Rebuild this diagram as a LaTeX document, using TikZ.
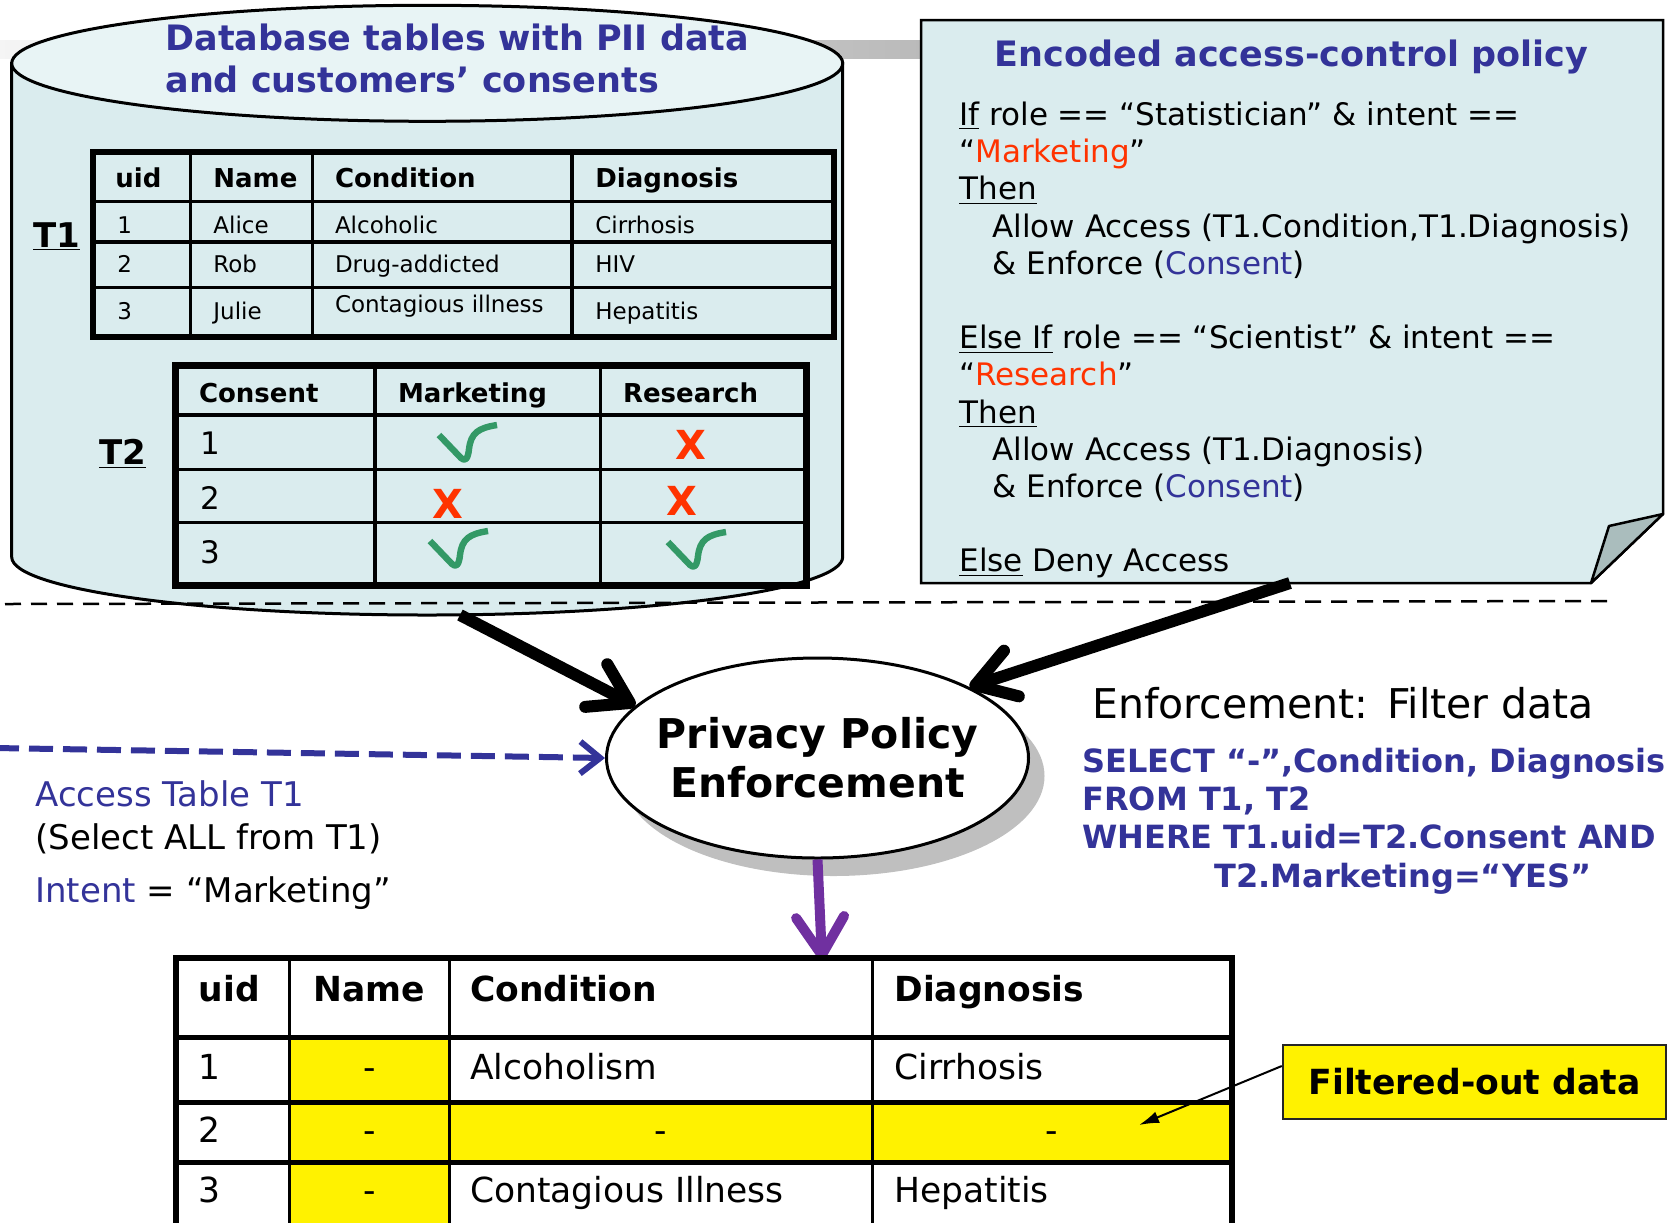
\documentclass[tikz,border=0pt]{standalone}
\usepackage{fontspec}
\setmainfont{DejaVu Sans}
\usetikzlibrary{arrows.meta,shapes.geometric,shadows}
\definecolor{dbBody}{HTML}{DAECEE}
\definecolor{dbTop}{HTML}{E8F4F5}
\definecolor{piiBlue}{HTML}{333399}
\definecolor{hotRed}{HTML}{FF3300}
\definecolor{okGreen}{HTML}{339966}
\definecolor{flowPurple}{HTML}{7030A0}
\definecolor{foldGray}{HTML}{AABDBD}
\tikzset{
  txt/.style={inner sep=0pt, anchor=base west},
  thead/.style={txt, font=\fontsize{13}{15}\selectfont\bfseries},
  tcell/.style={txt, font=\fontsize{11.5}{14}\selectfont},
  rhead/.style={txt, font=\fontsize{17.25}{20}\selectfont\bfseries},
  rcell/.style={txt, font=\fontsize{17.25}{20}\selectfont},
  sidetxt/.style={txt, font=\fontsize{17}{20}\selectfont},
  gridline/.style={line width=1.75pt},
  fatarrow/.style={line width=6pt, -{Straight Barb[length=19pt,width=24pt,round]}},
  nomark/.style={inner sep=0pt, text=hotRed, font=\fontsize{20}{24}\selectfont\bfseries},
  okmark/.pic={\draw[okGreen, line width=3.2pt, line join=round]
    (-29,-8) -- (-7,15) .. controls (-3,19) and (0,16) .. (1,6)
    .. controls (3,-10) and (10,-15) .. (29,-18);}
}

\begin{document}
\begin{tikzpicture}[x=0.5pt, y=-0.5pt]
\useasboundingbox (0,0) rectangle (1669,1222);
\clip (0,0) rectangle (1669,1222);

% grey bar behind database and policy note
\fill[left color=black!4, right color=black!27] (0,40) rectangle (921,58);

% database cylinder
\filldraw[fill=dbBody, line width=1.5pt] (11.7,63.3) -- (11.7,557)
  arc[start angle=180, end angle=360, x radius=207.75pt, y radius=29pt]
  -- (842.7,63.3) -- cycle;
\draw[fill=dbTop, line width=1.5pt] (427.2,63.3) ellipse[x radius=207.75pt, y radius=29pt];
\node[anchor=north west, inner sep=0pt, align=left, text=piiBlue,
  font=\fontsize{17.5}{21.25}\selectfont\bfseries] (dbtitle) at (165,23.4)
  {Database tables with PII data\\and customers’ consents};

% table T1
\draw[line width=3pt] (92.6,152.2) rectangle (833.8,337.3);
\foreach \x in {190.3,312.7,572} \draw[gridline] (\x,152.2) -- (\x,337.3);
\foreach \y in {201.7,242,287.5} \draw[gridline] (92.6,\y) -- (833.8,\y);
\foreach \x/\t [count=\i] in {115/uid,213/Name,334.6/Condition,595/Diagnosis}
  \node[thead] (t1h\i) at (\x,187.8) {\t};
\foreach \y/\yc/\a/\b/\c/\d [count=\i] in {233.3/233.3/1/Alice/Alcoholic/Cirrhosis,
    272.8/272.8/2/Rob/Drug-addicted/HIV, 319.5/312.4/3/Julie/Contagious illness/Hepatitis} {
  \node[tcell] (t1u\i) at (117,\y) {\a};
  \node[tcell] (t1n\i) at (213,\y) {\b};
  \node[tcell] (t1c\i) at (334.6,\yc) {\c};
  \node[tcell] (t1d\i) at (595,\y) {\d};
}
\node[txt, font=\fontsize{17}{20}\selectfont\bfseries] (t1lab) at (33,247) {\underline{T1}};

% table T2
\draw[line width=3.5pt] (175.5,365.8) rectangle (806.4,585.2);
\foreach \x in {375.2,600.7} \draw[gridline] (\x,365.8) -- (\x,585.2);
\foreach \y in {415.2,469.4,522.7} \draw[gridline] (175.5,\y) -- (806.4,\y);
\foreach \x/\t [count=\i] in {198.6/Consent,397.7/Marketing,622.6/Research}
  \node[thead] (t2h\i) at (\x,402.5) {\t};
\foreach \y [count=\i] in {454.7,509.3,563.5}
  \node[txt, font=\fontsize{15.5}{18}\selectfont] (t2n\i) at (200.2,\y) {\i};
\pic at (468,443) {okmark};
\pic at (459,549) {okmark};
\pic at (697,550) {okmark};
\node[nomark] (no1) at (691,445) {X};
\node[nomark] (no2) at (448,504) {X};
\node[nomark] (no3) at (682,501) {X};
\node[txt, font=\fontsize{17}{20}\selectfont\bfseries] (t2lab) at (99,464.6) {\underline{T2}};

% policy note
\draw[fill=dbBody, line width=1.25pt] (921,20) -- (1663,20) -- (1663,514)
  -- (1591,583) -- (921,583) -- cycle;
\draw[fill=foldGray, line width=1.25pt, line join=round] (1591,583) -- (1609,526) -- (1663,514) -- cycle;
\node[anchor=base, inner sep=0pt, text=piiBlue, font=\fontsize{17.5}{21}\selectfont\bfseries]
  (poltitle) at (1291.5,66) {Encoded access-control policy};
\node[anchor=north west, inner sep=0pt, align=left, font=\fontsize{15.5}{18.6}\selectfont]
  (poltext) at (959,101.6) {%
  \underline{If} role == “Statistician” \& intent ==\\
  “{\color{hotRed}Marketing}”\\
  \underline{Then}\\
  \hspace*{16.5pt}Allow Access (T1.Condition,T1.Diagnosis)\\
  \hspace*{16.5pt}\& Enforce ({\color{piiBlue}Consent})\\[18.6pt]
  \underline{Else If} role == “Scientist” \& intent ==\\
  “{\color{hotRed}Research}”\\
  \underline{Then}\\
  \hspace*{16.5pt}Allow Access (T1.Diagnosis)\\
  \hspace*{16.5pt}\& Enforce ({\color{piiBlue}Consent})\\[18.6pt]
  \underline{Else} Deny Access};

% separator
\draw[line width=1.25pt, dash pattern=on 8pt off 5pt] (5,604) -- (1615,601);

% enforcement point
\node[ellipse, draw, line width=1.5pt, fill=white, minimum width=211pt, minimum height=100pt,
  inner xsep=-6pt, inner ysep=0pt, align=center, font=\fontsize{20.5}{24.5}\selectfont\bfseries,
  drop shadow={shadow xshift=8pt, shadow yshift=-9pt, fill=black!25, opacity=1}]
  (ppe) at (817.5,758) {Privacy Policy\\Enforcement};

\coordinate (dbout) at (460,615);
\coordinate (polout) at (1290,583);
\coordinate (user) at (-5,748);
\coordinate (resin) at (822,960);
\draw[fatarrow] (dbout) -- (ppe.164);
\draw[fatarrow] (polout) -- (ppe.25);
\draw[line width=5pt, flowPurple, -{Straight Barb[length=19pt,width=24pt,round]}] (ppe.south) -- (resin);
\draw[line width=3pt, piiBlue, dash pattern=on 12pt off 5pt,
  -{Straight Barb[length=10pt,width=16pt]}] (user) -- (ppe.west);

% request
\node[sidetxt, text=piiBlue] (acc) at (35,806) {Access Table T1};
\node[sidetxt] (sel) at (35,849) {(Select ALL from T1)};
\node[sidetxt] (intent) at (35,902) {{\color{piiBlue}Intent} = “Marketing”};

% enforcement query
\node[txt, font=\fontsize{20.5}{24}\selectfont] (enf) at (1092,718) {Enforcement:\hspace{.45em}Filter data};
\node[anchor=north west, inner sep=0pt, align=left, text=piiBlue,
  font=\fontsize{16}{19.15}\selectfont\bfseries] (sql) at (1082,747.4)
  {SELECT “-”,Condition, Diagnosis\\FROM T1, T2\\WHERE T1.uid=T2.Consent AND\\
   \hspace*{66pt}T2.Marketing=“YES”};

% result table
\fill[yellow] (289.5,1037.8) rectangle (449,1240);
\fill[yellow] (449,1102.7) rectangle (1232,1162.4);
\foreach \x in {289.5,449,872} \draw[line width=1.5pt] (\x,958) -- (\x,1240);
\foreach \y in {1037.8,1102.7,1162.4} \draw[line width=2.5pt] (176,\y) -- (1232,\y);
\draw[line width=3pt] (176,1240) -- (176,958) -- (1232,958) -- (1232,1240);
\foreach \x/\t [count=\i] in {198.4/uid,312.8/Name,469.8/Condition,894/Diagnosis}
  \node[rhead] (rh\i) at (\x,1001.7) {\t};
\foreach \y [count=\i] in {1079.3,1142.7,1202.7} {
  \node[rcell] (rn\i) at (198.4,\y) {\i};
  \node[rcell, anchor=base] (rm\i) at (369.5,\y) {-};
}
\node[rcell] (r1c) at (469.8,1079.3) {Alcoholism};
\node[rcell] (r1d) at (894,1079.3) {Cirrhosis};
\node[rcell, anchor=base] (r2c) at (660.5,1142.7) {-};
\node[rcell, anchor=base] (r2d) at (1052,1142.7) {-};
\node[rcell] (r3c) at (469.8,1202.7) {Contagious Illness};
\node[rcell] (r3d) at (894,1202.7) {Hepatitis};

% callout
\node[fill=yellow, draw=black!85, line width=1.25pt, minimum width=191.5pt, minimum height=37pt,
  font=\fontsize{17.3}{20}\selectfont\bfseries] (filt) at (1474.5,1082) {Filtered-out data};
\coordinate (fdash) at (1139,1125);
\draw[line width=1pt, -{Latex[length=10pt,width=6pt]}] ([yshift=8pt]filt.west) -- (fdash);
\end{tikzpicture}
\end{document}
